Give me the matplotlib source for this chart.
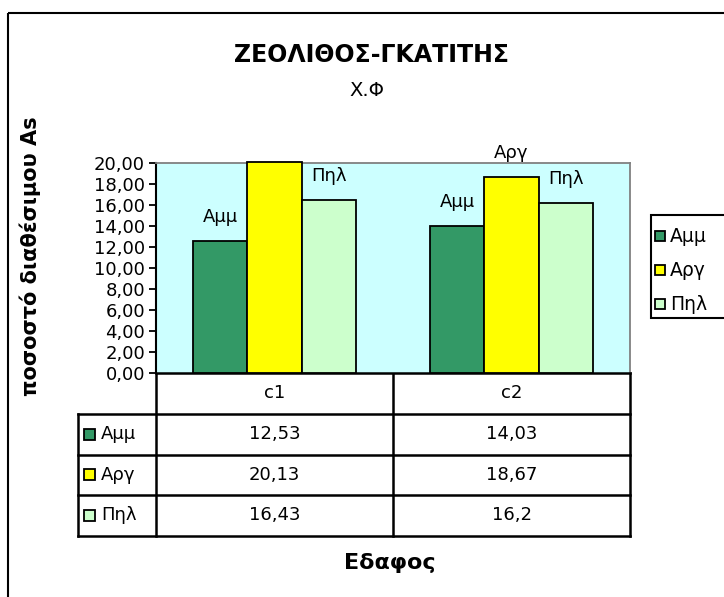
import numpy as np
import matplotlib.pyplot as plt
from matplotlib.patches import Rectangle

plt.rcParams['font.family'] = ['DejaVu Sans']

categories = ['c1', 'c2']
series = ['Αμμ', 'Αργ', 'Πηλ']
amm = [12.53, 14.03]
arg = [20.13, 18.67]
pil = [16.43, 16.2]
colors = ['#339966', '#FFFF00', '#CCFFCC']
yticks = np.arange(0, 21, 2)
ymax = 20

values = [amm, arg, pil]

W, H = 724, 597
fig = plt.figure(figsize=(W / 100, H / 100), dpi=100)

# pixel-space layer for frame, data table and legend
lay = fig.add_axes([0, 0, 1, 1], zorder=0)
lay.set_xlim(0, W)
lay.set_ylim(H, 0)
lay.axis('off')


def px_box(x0, y0, x1, y1):
    return [x0 / W, 1 - y1 / H, (x1 - x0) / W, (y1 - y0) / H]


def fmt(v):
    return ('%g' % v).replace('.', ',')


PL, PT, PR, PB = 156, 163, 630, 373   # plot area in pixels
ax = fig.add_axes(px_box(PL, PT, PR, PB), zorder=2)
ax.set_facecolor('#CCFFFF')

x = np.arange(len(categories)) + 0.5
bw = 0.228
for i, (name, vals, c) in enumerate(zip(series, values, colors)):
    bars = ax.bar(x + (i - 1) * bw, vals, bw, color=c, edgecolor='black',
                  linewidth=1.3, clip_on=False, zorder=3)
    for b, v in zip(bars, vals):
        # labels of bars running past the axis top are not shown
        if v <= ymax:
            ax.annotate(name, (b.get_x() + b.get_width() / 2, v),
                        xytext=(0, 24), textcoords='offset pixels',
                        ha='center', va='center', fontsize=13)

ax.set_xlim(0, len(categories))
ax.set_ylim(0, ymax)
ax.set_yticks(yticks)
ax.set_yticklabels([('%.2f' % t).replace('.', ',') for t in yticks], fontsize=13)
ax.set_xticks([])
ax.tick_params(axis='y', direction='out', length=5, width=1.3, pad=3)
for s in ['top', 'right']:
    ax.spines[s].set_color('#808080')
    ax.spines[s].set_linewidth(1.3)
ax.spines['left'].set_linewidth(1.5)
ax.spines['bottom'].set_linewidth(1.8)

# data table under the plot
TL = 78
head_h, row_h = 41, 40.5
col_w = (PR - PL) / len(categories)
row_y = [PB + head_h + k * row_h for k in range(len(series) + 1)]
lw = 1.8
for y in row_y:
    lay.plot([TL, PR], [y, y], color='black', lw=lw, solid_capstyle='projecting')
lay.plot([TL, TL], [row_y[0], row_y[-1]], color='black', lw=lw)
for k in range(len(categories) + 1):
    xx = PL + k * col_w
    lay.plot([xx, xx], [PB, row_y[-1]], color='black', lw=lw)
for j, cat in enumerate(categories):
    cx = PL + (j + 0.5) * col_w
    lay.text(cx, PB + head_h / 2, cat, ha='center', va='center', fontsize=13)
    for i, vals in enumerate(values):
        lay.text(cx, row_y[i] + row_h / 2, fmt(vals[j]), ha='center',
                 va='center', fontsize=13)
for i, (name, c) in enumerate(zip(series, colors)):
    cy = row_y[i] + row_h / 2
    lay.add_patch(Rectangle((84, cy - 5.5), 11, 11, facecolor=c,
                            edgecolor='black', lw=1.3))
    lay.text(101, cy, name, ha='left', va='center', fontsize=13)

# legend
lay.add_patch(Rectangle((651, 215), 100, 103, facecolor='white',
                        edgecolor='black', lw=1.5))
for i, (name, c) in enumerate(zip(series, colors)):
    cy = 236 + i * 34
    lay.add_patch(Rectangle((655, cy - 5), 10, 10, facecolor=c,
                            edgecolor='black', lw=1.3))
    lay.text(670, cy, name, ha='left', va='center', fontsize=13.5)

# outer chart frame
lay.add_patch(Rectangle((8, 13), 800, 700, facecolor='none',
                        edgecolor='black', lw=1.5))

fig.text(371 / W, 1 - 55 / H, 'ΖΕΟΛΙΘΟΣ-ΓΚΑΤΙΤΗΣ', ha='center', va='center',
         fontsize=17, fontweight='bold')
fig.text(367 / W, 1 - 90 / H, 'Χ.Φ', ha='center', va='center', fontsize=14)
fig.text(30 / W, 1 - 256 / H, 'ποσοστό διαθέσιμου As', rotation=90,
         ha='center', va='center', fontsize=15, fontweight='bold')
fig.text(390 / W, 1 - 563 / H, 'Εδαφος', ha='center', va='center',
         fontsize=16, fontweight='bold')

fig.savefig('out.png', dpi=100)
